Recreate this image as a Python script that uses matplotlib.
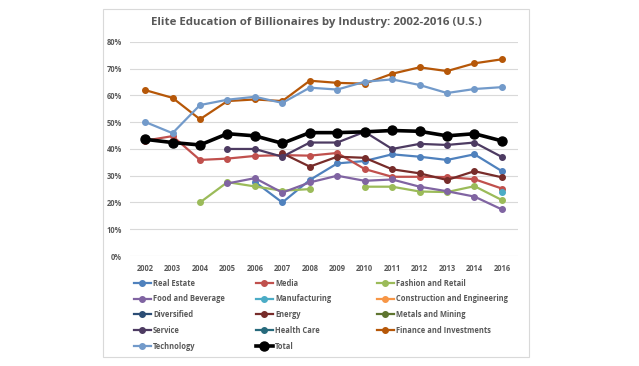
import numpy as np
import matplotlib
matplotlib.use('Agg')
from matplotlib import pyplot as plt
from matplotlib.patches import Rectangle
from matplotlib import font_manager

N = None
years = ['2002', '2003', '2004', '2005', '2006', '2007', '2008', '2009',
         '2010', '2011', '2012', '2013', '2014', '2016']

real_estate   = [N, N, N, N, 27.7, 20.0, 28.4, 34.6, 35.5, 38.0, 37.1, 35.9, 38.0, 31.7]
media         = [43.1, 44.8, 35.9, 36.4, 37.4, 37.7, 37.5, 38.5, 32.5, 29.6, 29.6, 29.5, 28.7, 25.2]
fashion       = [N, N, 20.0, 27.6, 26.0, 24.4, 25.0, N, 25.9, 25.9, 24.1, 23.9, 26.1, 20.9]
food_bev      = [N, N, N, 27.1, 29.1, 23.7, 27.5, 30.0, 28.1, 28.6, 25.9, 24.2, 22.2, 17.4]
manufacturing = [N, N, N, N, N, N, N, N, N, N, N, N, N, 24.0]
construction  = [N] * 14
diversified   = [N] * 14
energy        = [N, N, N, N, N, 38.4, 33.4, 37.1, 36.7, 32.4, 30.9, 28.4, 31.7, 29.4]
metals        = [N] * 14
service       = [N, N, N, 40.0, 40.0, 37.1, 42.4, 42.4, 46.4, 40.0, 41.9, 41.5, 42.4, 37.0]
health_care   = [N] * 14
finance       = [62.0, 59.1, 51.1, 57.9, 58.5, 57.9, 65.5, 64.7, 64.4, 68.1, 70.5, 69.1, 72.0, 73.5]
technology    = [50.1, 45.9, 56.4, 58.4, 59.5, 57.2, 62.9, 62.2, 65.1, 66.0, 63.9, 60.9, 62.4, 63.1]
total         = [43.6, 42.4, 41.5, 45.7, 44.9, 42.1, 46.1, 46.1, 46.4, 46.9, 46.6, 44.9, 45.7, 43.0]

series = [
    ('Real Estate', real_estate, '#4F81BD'),
    ('Media', media, '#C0504D'),
    ('Fashion and Retail', fashion, '#9BBB59'),
    ('Food and Beverage', food_bev, '#8064A2'),
    ('Manufacturing', manufacturing, '#4BACC6'),
    ('Construction and Engineering', construction, '#F79646'),
    ('Diversified', diversified, '#2C4D75'),
    ('Energy', energy, '#772C2A'),
    ('Metals and Mining', metals, '#5F7530'),
    ('Service', service, '#4D3B62'),
    ('Health Care', health_care, '#276A7C'),
    ('Finance and Investments', finance, '#B65708'),
    ('Technology', technology, '#729ACA'),
]

txt = '#595959'
# narrow face if present, closer to the Calibri look of the original
names = {f.name for f in font_manager.fontManager.ttflist}
narrow = 'Liberation Sans Narrow' in names
plt.rcParams['font.family'] = (['Liberation Sans Narrow', 'DejaVu Sans'] if narrow
                               else ['Open Sans', 'DejaVu Sans'])
k = 1.0 if narrow else 0.8

fig = plt.figure(figsize=(6.39, 3.66), dpi=100)
fig.patches.append(Rectangle((103 / 639, 1 - 357 / 366), 426 / 639, 348 / 366,
                             transform=fig.transFigure, fill=False,
                             edgecolor='#D9D9D9', linewidth=0.8))
ax = fig.add_axes([0.2034, 0.3005, 0.607, 0.585])

x = np.arange(len(years))
handles = {}
for name, vals, col in series:
    y = np.array([np.nan if v is None else v for v in vals], dtype=float)
    h, = ax.plot(x, y, color=col, linewidth=1.6, marker='o', markersize=4, label=name)
    handles[name] = h
h, = ax.plot(x, np.array(total, dtype=float), color='black', linewidth=2.6,
             marker='o', markersize=6.5, label='Total', zorder=5)
handles['Total'] = h

ax.set_xlim(-0.55, 13.58)
ax.set_ylim(0, 80)
ax.set_yticks(np.arange(0, 81, 10))
ax.set_yticklabels([f'{v}%' for v in range(0, 81, 10)])
ax.set_xticks(x)
ax.set_xticklabels(years)
ax.grid(axis='y', color='#D9D9D9', linewidth=0.8)
ax.set_axisbelow(True)
for s in ax.spines.values():
    s.set_visible(False)
ax.tick_params(length=0, labelsize=6.8 * k, labelcolor=txt, pad=6)
for lab in ax.get_xticklabels() + ax.get_yticklabels():
    lab.set_fontweight('bold')

fig.text(0.495, 1 - 22 / 366, 'Elite Education of Billionaires by Industry: 2002-2016 (U.S.)',
         ha='center', va='center', fontsize=10.3 * k, fontweight='bold', color=txt)

# legend: three equal-pitch columns like Excel's
columns = [['Real Estate', 'Food and Beverage', 'Diversified', 'Service', 'Technology'],
           ['Media', 'Manufacturing', 'Energy', 'Health Care', 'Total'],
           ['Fashion and Retail', 'Construction and Engineering', 'Metals and Mining',
            'Finance and Investments']]
col_x = [134, 256, 377]
for cx, labels in zip(col_x, columns):
    leg = fig.legend([handles[l] for l in labels], labels, loc='upper left',
                     bbox_to_anchor=(cx / 639, 1 - 278.5 / 366), frameon=False,
                     prop={'size': 6.8 * k, 'weight': 'bold'}, handlelength=2.2,
                     handletextpad=0.3, labelspacing=0.9,
                     borderaxespad=0, borderpad=0)
    for t in leg.get_texts():
        t.set_color(txt)

plt.savefig('out.png', dpi=100)
plt.close()
